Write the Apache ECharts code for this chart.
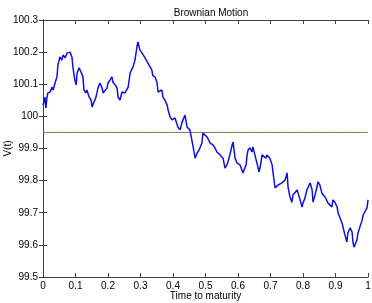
<!DOCTYPE html>
<html><head><meta charset="utf-8">
<script src="https://cdn.jsdelivr.net/npm/echarts@6/dist/echarts.min.js"></script>
<style>html,body{margin:0;padding:0;background:#fff}#c{width:372px;height:303px}</style>
</head><body><div id="c"></div>
<script>
const tVals = [0,.003,.006,.009,.012,.015,.022,.028,.031,.037,.043,.046,.052,.058,.062,.068,.074,.077,.083,.089,.092,.098,.102,.105,.111,.117,.123,.126,.132,.135,.142,.148,.151,.157,.163,.166,.169,.175,.182,.185,.191,.197,.200,.206,.212,.215,.222,.228,.231,.237,.243,.246,.252,.258,.262,.268,.274,.277,.283,.289,.292,.298,.305,.308,.314,.320,.323,.329,.335,.338,.345,.351,.354,.360,.366,.369,.375,.382,.385,.391,.397,.406,.415,.422,.428,.437,.443,.452,.458,.462,.468,.474,.480,.489,.492,.498,.505,.508,.514,.520,.523,.529,.535,.538,.545,.551,.554,.560,.566,.569,.575,.582,.585,.588,.591,.597,.600,.606,.612,.615,.618,.625,.628,.631,.637,.643,.646,.652,.658,.662,.665,.671,.674,.680,.686,.689,.698,.705,.708,.714,.720,.723,.735,.745,.751,.754,.760,.766,.769,.782,.785,.791,.797,.800,.806,.812,.822,.828,.831,.837,.843,.846,.852,.858,.868,.877,.889,.892,.898,.905,.908,.920,.929,.935,.938,.945,.951,.954,.957,.966,.969,.975,.982,.985,.991,.997,1.000];
const vVals = [100.035,100.045,100.060,100.026,100.057,100.073,100.076,100.091,100.082,100.104,100.123,100.160,100.185,100.175,100.191,100.182,100.197,100.191,100.200,100.185,100.154,100.113,100.098,100.135,100.151,100.138,100.123,100.082,100.073,100.082,100.060,100.051,100.029,100.045,100.060,100.073,100.088,100.104,100.088,100.073,100.076,100.088,100.104,100.113,100.123,100.107,100.098,100.088,100.060,100.051,100.076,100.082,100.073,100.067,100.091,100.135,100.138,100.154,100.175,100.216,100.232,100.207,100.197,100.200,100.182,100.185,100.166,100.166,100.144,100.126,100.123,100.104,100.076,100.082,100.082,100.060,100.051,100.035,100.020,99.998,99.989,99.995,99.967,99.958,99.982,100.004,99.967,99.958,99.926,99.905,99.870,99.886,99.895,99.917,99.948,99.948,99.936,99.933,99.917,99.920,99.911,99.902,99.889,99.895,99.880,99.874,99.870,99.839,99.849,99.858,99.880,99.911,99.920,99.895,99.870,99.855,99.858,99.849,99.833,99.824,99.818,99.849,99.880,99.895,99.902,99.889,99.905,99.880,99.874,99.839,99.827,99.858,99.880,99.874,99.870,99.880,99.870,99.849,99.824,99.777,99.771,99.786,99.793,99.802,99.824,99.780,99.749,99.733,99.755,99.771,99.761,99.740,99.718,99.730,99.746,99.771,99.793,99.771,99.733,99.755,99.780,99.796,99.786,99.761,99.749,99.730,99.718,99.740,99.733,99.718,99.699,99.668,99.631,99.609,99.637,99.653,99.640,99.606,99.593,99.615,99.637,99.640,99.677,99.693,99.699,99.715,99.740];
const refLevel = 99.95;
const xTicks = [0,0.1,0.2,0.3,0.4,0.5,0.6,0.7,0.8,0.9,1];
const yTicks = [99.5,99.6,99.7,99.8,99.9,100,100.1,100.2,100.3];

const font = 'Liberation Sans, Arial, sans-serif';
const axisCol = '#404040';
const path = tVals.map((t,i)=>[t,vVals[i]]);
const refLine = [[0,refLevel],[1,refLevel]];
const fmtX = v => { const r = Math.round(v*10)/10; return r===0?'0':(r===1?'1':String(r)); };
const fmtY = v => { const r = Math.round(v*10)/10; return Number.isInteger(r)?String(r):r.toFixed(1); };
const baseAxis = {
  axisLine:{show:true,lineStyle:{color:axisCol,width:1}},
  axisTick:{show:true,inside:true,length:4,lineStyle:{color:axisCol}},
  splitLine:{show:false}
};
const chart = echarts.init(document.getElementById('c'),null,{renderer:'canvas'});
chart.setOption({
  animation:false,
  backgroundColor:'#fff',
  title:{text:'Brownian Motion',left:206,top:3,textAlign:'center',textStyle:{fontFamily:font,fontSize:10,fontWeight:'normal',color:'#000'}},
  grid:{left:43,right:4,top:20,bottom:26,containLabel:false,outerBoundsMode:'none'},
  xAxis:[
    Object.assign({type:'value',min:0,max:1,interval:0.1,position:'bottom',
      name:'Time to maturity',nameLocation:'middle',nameGap:14,nameMoveOverlap:false,
      nameTextStyle:{fontFamily:font,fontSize:10,color:'#000'},
      axisLabel:{fontFamily:font,fontSize:10,color:'#000',margin:4,formatter:fmtX}},baseAxis),
    Object.assign({type:'value',min:0,max:1,interval:0.1,position:'top',axisLabel:{show:false}},baseAxis)
  ],
  yAxis:[
    Object.assign({type:'value',min:99.5,max:100.3,interval:0.1,position:'left',
      name:'V(t)',nameLocation:'middle',nameGap:30,nameRotate:90,nameMoveOverlap:false,
      nameTextStyle:{fontFamily:font,fontSize:10,color:'#000'},
      axisLabel:{fontFamily:font,fontSize:10,color:'#000',margin:5,formatter:fmtY}},baseAxis),
    Object.assign({type:'value',min:99.5,max:100.3,interval:0.1,position:'right',axisLabel:{show:false}},baseAxis)
  ],
  series:[
    {type:'line',data:refLine,showSymbol:false,lineStyle:{color:'#c05050',width:1,type:[2,2]},z:2},
    {type:'line',data:refLine,showSymbol:false,lineStyle:{color:'#50a050',width:1,type:[2,2],dashOffset:2},z:2},
    {type:'line',data:path,showSymbol:false,lineStyle:{color:'#1010d8',width:1.5},z:3}
  ]
});
</script></body></html>
